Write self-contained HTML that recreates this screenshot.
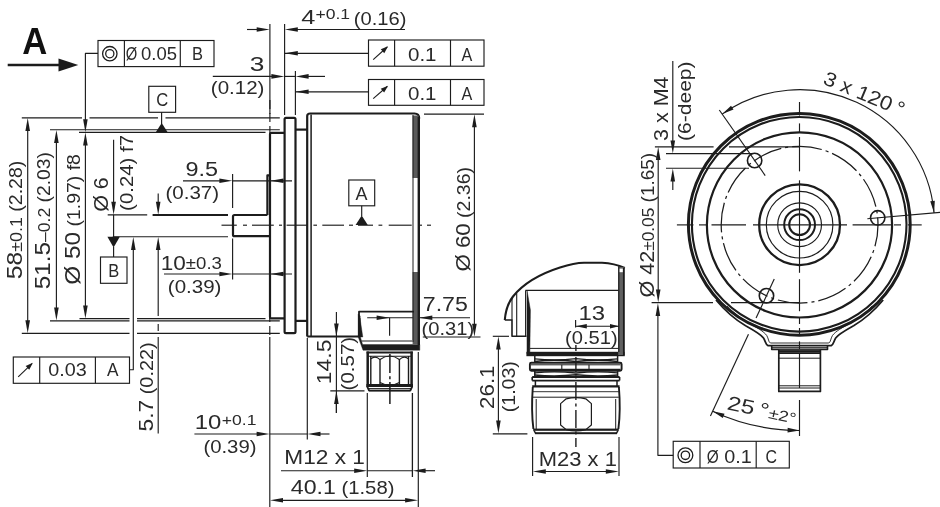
<!DOCTYPE html>
<html><head><meta charset="utf-8"><title>Dimensional drawing</title>
<style>
html,body{margin:0;padding:0;background:#fff;}
body{width:940px;height:507px;overflow:hidden;font-family:"Liberation Sans",sans-serif;}
svg{display:block;filter:grayscale(1);}
svg text{font-family:"Liberation Sans",sans-serif;}
</style></head><body>
<svg width="940" height="507" viewBox="0 0 940 507">
<rect x="0" y="0" width="940" height="507" fill="#ffffff"/>
<text x="22.3" y="54.3" font-size="37" text-anchor="start" font-weight="bold" fill="#111" textLength="25" lengthAdjust="spacingAndGlyphs">A</text>
<line x1="7.7" y1="65" x2="62" y2="65" stroke="#1c1c1c" stroke-width="2.6" stroke-linecap="butt"/>
<polygon points="78.3,65 58.5,58.4 58.5,71.6" fill="#1c1c1c"/>
<rect x="98" y="40.5" width="116" height="26.1" fill="none" stroke="#1c1c1c" stroke-width="1.15"/>
<line x1="124.4" y1="40.5" x2="124.4" y2="66.6" stroke="#1c1c1c" stroke-width="1.15" stroke-linecap="butt"/>
<line x1="180.3" y1="40.5" x2="180.3" y2="66.6" stroke="#1c1c1c" stroke-width="1.15" stroke-linecap="butt"/>
<circle cx="109.8" cy="53.7" r="7.2" fill="none" stroke="#1c1c1c" stroke-width="1.3"/>
<circle cx="109.8" cy="53.7" r="4.1" fill="none" stroke="#1c1c1c" stroke-width="1.3"/>
<text x="125.8" y="60.3" font-size="17.5" text-anchor="start" font-weight="normal" fill="#2a2a2a" textLength="11.5" lengthAdjust="spacingAndGlyphs">Ø</text>
<text x="141" y="60.3" font-size="17.5" text-anchor="start" font-weight="normal" fill="#2a2a2a" textLength="36" lengthAdjust="spacingAndGlyphs">0.05</text>
<text x="192" y="60.3" font-size="17.5" text-anchor="start" font-weight="normal" fill="#2a2a2a" textLength="11" lengthAdjust="spacingAndGlyphs">B</text>
<path d="M98,53.4 H85.4 V123" fill="none" stroke="#1c1c1c" stroke-width="1.15" stroke-linejoin="round"/>
<polygon points="85.4,132.2 83.1,119.2 87.7,119.2" fill="#1c1c1c"/>
<rect x="148.8" y="86.3" width="26.8" height="26" fill="none" stroke="#1c1c1c" stroke-width="1.15"/>
<text x="156.2" y="106.4" font-size="17.5" text-anchor="start" font-weight="normal" fill="#2a2a2a" textLength="12" lengthAdjust="spacingAndGlyphs">C</text>
<line x1="161.6" y1="112.3" x2="161.6" y2="124" stroke="#1c1c1c" stroke-width="1.15" stroke-linecap="butt"/>
<polygon points="155.6,132.6 167.8,132.6 161.7,123" fill="#1c1c1c"/>
<rect x="368.5" y="40" width="115.5" height="26.2" fill="none" stroke="#1c1c1c" stroke-width="1.15"/>
<line x1="394.6" y1="40" x2="394.6" y2="66.2" stroke="#1c1c1c" stroke-width="1.15" stroke-linecap="butt"/>
<line x1="450.5" y1="40" x2="450.5" y2="66.2" stroke="#1c1c1c" stroke-width="1.15" stroke-linecap="butt"/>
<line x1="373.2" y1="59.6" x2="387.2" y2="47" stroke="#1c1c1c" stroke-width="1.1" stroke-linecap="butt"/>
<polygon points="388.09,46.2 384.26,53.15 380.78,49.28" fill="#1c1c1c"/>
<text x="408" y="60.6" font-size="17.5" text-anchor="start" font-weight="normal" fill="#2a2a2a" textLength="28.5" lengthAdjust="spacingAndGlyphs">0.1</text>
<text x="461.6" y="60.6" font-size="17.5" text-anchor="start" font-weight="normal" fill="#2a2a2a" textLength="10.8" lengthAdjust="spacingAndGlyphs">A</text>
<rect x="368.5" y="79.5" width="115.5" height="25.8" fill="none" stroke="#1c1c1c" stroke-width="1.15"/>
<line x1="394.6" y1="79.5" x2="394.6" y2="105.3" stroke="#1c1c1c" stroke-width="1.15" stroke-linecap="butt"/>
<line x1="450.5" y1="79.5" x2="450.5" y2="105.3" stroke="#1c1c1c" stroke-width="1.15" stroke-linecap="butt"/>
<line x1="373.2" y1="98.7" x2="387.2" y2="86.5" stroke="#1c1c1c" stroke-width="1.1" stroke-linecap="butt"/>
<polygon points="388.1,85.71 384.16,92.6 380.74,88.68" fill="#1c1c1c"/>
<text x="408" y="99.7" font-size="17.5" text-anchor="start" font-weight="normal" fill="#2a2a2a" textLength="28.5" lengthAdjust="spacingAndGlyphs">0.1</text>
<text x="461.6" y="99.7" font-size="17.5" text-anchor="start" font-weight="normal" fill="#2a2a2a" textLength="10.8" lengthAdjust="spacingAndGlyphs">A</text>
<line x1="284.6" y1="53.3" x2="368.5" y2="53.3" stroke="#1c1c1c" stroke-width="1.15" stroke-linecap="butt"/>
<polygon points="284.8,53.3 297.8,51 297.8,55.6" fill="#1c1c1c"/>
<line x1="295.4" y1="91.8" x2="368.5" y2="91.8" stroke="#1c1c1c" stroke-width="1.15" stroke-linecap="butt"/>
<polygon points="295.6,91.8 308.6,89.5 308.6,94.1" fill="#1c1c1c"/>
<rect x="13.3" y="357" width="116.2" height="26.3" fill="none" stroke="#1c1c1c" stroke-width="1.15"/>
<line x1="39.7" y1="357" x2="39.7" y2="383.3" stroke="#1c1c1c" stroke-width="1.15" stroke-linecap="butt"/>
<line x1="95.4" y1="357" x2="95.4" y2="383.3" stroke="#1c1c1c" stroke-width="1.15" stroke-linecap="butt"/>
<line x1="18.2" y1="376.8" x2="32" y2="363.6" stroke="#1c1c1c" stroke-width="1.1" stroke-linecap="butt"/>
<polygon points="32.87,362.77 29.24,369.83 25.65,366.08" fill="#1c1c1c"/>
<text x="48.2" y="376.4" font-size="17.5" text-anchor="start" font-weight="normal" fill="#2a2a2a" textLength="38.5" lengthAdjust="spacingAndGlyphs">0.03</text>
<text x="107" y="376.4" font-size="17.5" text-anchor="start" font-weight="normal" fill="#2a2a2a" textLength="11.5" lengthAdjust="spacingAndGlyphs">A</text>
<path d="M129.5,369.7 H133.3 V246" fill="none" stroke="#1c1c1c" stroke-width="1.15" stroke-linejoin="round"/>
<polygon points="133.3,237 135.6,250 131,250" fill="#1c1c1c"/>
<rect x="673.2" y="441.3" width="116.1" height="26.7" fill="none" stroke="#1c1c1c" stroke-width="1.15"/>
<line x1="700" y1="441.3" x2="700" y2="468" stroke="#1c1c1c" stroke-width="1.15" stroke-linecap="butt"/>
<line x1="756.2" y1="441.3" x2="756.2" y2="468" stroke="#1c1c1c" stroke-width="1.15" stroke-linecap="butt"/>
<circle cx="685.4" cy="455.3" r="7.4" fill="none" stroke="#1c1c1c" stroke-width="1.3"/>
<circle cx="685.4" cy="455.3" r="4.2" fill="none" stroke="#1c1c1c" stroke-width="1.3"/>
<text x="706.8" y="463" font-size="17.5" text-anchor="start" font-weight="normal" fill="#2a2a2a" textLength="12" lengthAdjust="spacingAndGlyphs">Ø</text>
<text x="724.2" y="463" font-size="17.5" text-anchor="start" font-weight="normal" fill="#2a2a2a" textLength="27.5" lengthAdjust="spacingAndGlyphs">0.1</text>
<text x="765.6" y="463" font-size="17.5" text-anchor="start" font-weight="normal" fill="#2a2a2a" textLength="11.5" lengthAdjust="spacingAndGlyphs">C</text>
<path d="M673.2,455.3 H657.9 V312" fill="none" stroke="#1c1c1c" stroke-width="1.15" stroke-linejoin="round"/>
<polygon points="657.9,303 660.2,316 655.6,316" fill="#1c1c1c"/>
<rect x="348.8" y="180" width="25.9" height="25.8" fill="none" stroke="#1c1c1c" stroke-width="1.15"/>
<text x="355.6" y="199.6" font-size="17.5" text-anchor="start" font-weight="normal" fill="#2a2a2a" textLength="12" lengthAdjust="spacingAndGlyphs">A</text>
<line x1="361.7" y1="205.8" x2="361.7" y2="216" stroke="#1c1c1c" stroke-width="1.15" stroke-linecap="butt"/>
<polygon points="355.6,225 367.8,225 361.7,215.6" fill="#1c1c1c"/>
<rect x="100.5" y="257" width="26.5" height="26.3" fill="none" stroke="#1c1c1c" stroke-width="1.15"/>
<text x="108.3" y="277" font-size="17.5" text-anchor="start" font-weight="normal" fill="#2a2a2a" textLength="11" lengthAdjust="spacingAndGlyphs">B</text>
<line x1="113.6" y1="247" x2="113.6" y2="257" stroke="#1c1c1c" stroke-width="1.15" stroke-linecap="butt"/>
<polygon points="107.4,236.7 119.8,236.7 113.6,247.4" fill="#1c1c1c"/>
<line x1="21.8" y1="117.8" x2="82" y2="117.8" stroke="#1c1c1c" stroke-width="1.15" stroke-linecap="butt"/>
<line x1="89.5" y1="117.8" x2="158" y2="117.8" stroke="#1c1c1c" stroke-width="1.15" stroke-linecap="butt"/>
<line x1="165.5" y1="117.8" x2="279.8" y2="117.8" stroke="#1c1c1c" stroke-width="1.15" stroke-linecap="butt"/>
<line x1="50" y1="129.7" x2="279.8" y2="129.7" stroke="#1c1c1c" stroke-width="1.15" stroke-linecap="butt"/>
<line x1="79" y1="132.3" x2="265.5" y2="132.3" stroke="#1c1c1c" stroke-width="1.15" stroke-linecap="butt"/>
<line x1="79.5" y1="318.6" x2="129.5" y2="318.6" stroke="#1c1c1c" stroke-width="1.15" stroke-linecap="butt"/>
<line x1="137" y1="318.6" x2="265.5" y2="318.6" stroke="#1c1c1c" stroke-width="1.15" stroke-linecap="butt"/>
<line x1="50" y1="320.8" x2="129.5" y2="320.8" stroke="#1c1c1c" stroke-width="1.15" stroke-linecap="butt"/>
<line x1="137" y1="320.8" x2="279.8" y2="320.8" stroke="#1c1c1c" stroke-width="1.15" stroke-linecap="butt"/>
<line x1="21.8" y1="333.4" x2="129.5" y2="333.4" stroke="#1c1c1c" stroke-width="1.15" stroke-linecap="butt"/>
<line x1="137" y1="333.4" x2="279.8" y2="333.4" stroke="#1c1c1c" stroke-width="1.15" stroke-linecap="butt"/>
<line x1="27.7" y1="126" x2="27.7" y2="325" stroke="#1c1c1c" stroke-width="1.15" stroke-linecap="butt"/>
<polygon points="27.7,118 30,131 25.4,131" fill="#1c1c1c"/>
<polygon points="27.7,333.2 25.4,320.2 30,320.2" fill="#1c1c1c"/>
<line x1="56.4" y1="138" x2="56.4" y2="312" stroke="#1c1c1c" stroke-width="1.15" stroke-linecap="butt"/>
<polygon points="56.4,129.9 58.7,142.9 54.1,142.9" fill="#1c1c1c"/>
<polygon points="56.4,320.6 54.1,307.6 58.7,307.6" fill="#1c1c1c"/>
<line x1="85.4" y1="140" x2="85.4" y2="310" stroke="#1c1c1c" stroke-width="1.15" stroke-linecap="butt"/>
<polygon points="85.4,132.5 87.7,145.5 83.1,145.5" fill="#1c1c1c"/>
<polygon points="85.4,318.4 83.1,305.4 87.7,305.4" fill="#1c1c1c"/>
<text x="22.2" y="279.2" font-size="22" text-anchor="start" font-weight="normal" fill="#2a2a2a" transform="rotate(-90 22.2 279.2)" textLength="118.6" lengthAdjust="spacingAndGlyphs">58<tspan font-size="16">±0.1</tspan><tspan font-size="17.5"> (2.28)</tspan></text>
<text x="50.3" y="289.2" font-size="22" text-anchor="start" font-weight="normal" fill="#2a2a2a" transform="rotate(-90 50.3 289.2)" textLength="137.1" lengthAdjust="spacingAndGlyphs">51.5<tspan font-size="16">–0.2</tspan><tspan font-size="17.5"> (2.03)</tspan></text>
<text x="80.2" y="284.7" font-size="22" text-anchor="start" font-weight="normal" fill="#2a2a2a" transform="rotate(-90 80.2 284.7)" textLength="130.6" lengthAdjust="spacingAndGlyphs">Ø 50<tspan font-size="17.5"> (1.97) f8</tspan></text>
<line x1="113.6" y1="139.7" x2="113.6" y2="206" stroke="#1c1c1c" stroke-width="1.15" stroke-linecap="butt"/>
<polygon points="113.6,214.7 111.3,201.7 115.9,201.7" fill="#1c1c1c"/>
<line x1="113.6" y1="214.7" x2="113.6" y2="237" stroke="#1c1c1c" stroke-width="1.15" stroke-linecap="butt"/>
<line x1="107.7" y1="214.9" x2="147.2" y2="214.9" stroke="#1c1c1c" stroke-width="1.15" stroke-linecap="butt"/>
<line x1="152.6" y1="214.9" x2="228" y2="214.9" stroke="#1c1c1c" stroke-width="2.0" stroke-linecap="butt"/>
<line x1="112.8" y1="236.7" x2="228" y2="236.7" stroke="#1c1c1c" stroke-width="1.15" stroke-linecap="butt"/>
<text x="108.5" y="211.8" font-size="20" text-anchor="start" font-weight="normal" fill="#2a2a2a" transform="rotate(-90 108.5 211.8)" textLength="34.6" lengthAdjust="spacingAndGlyphs">Ø 6</text>
<text x="132.8" y="210.9" font-size="17.5" text-anchor="start" font-weight="normal" fill="#2a2a2a" transform="rotate(-90 132.8 210.9)" textLength="76" lengthAdjust="spacingAndGlyphs">(0.24) f7</text>
<line x1="158.2" y1="193.6" x2="158.2" y2="206" stroke="#1c1c1c" stroke-width="1.15" stroke-linecap="butt"/>
<polygon points="158.2,214.7 155.9,201.7 160.5,201.7" fill="#1c1c1c"/>
<polygon points="158.2,236.9 160.5,249.9 155.9,249.9" fill="#1c1c1c"/>
<line x1="158.2" y1="245" x2="158.2" y2="316" stroke="#1c1c1c" stroke-width="1.15" stroke-linecap="butt"/>
<line x1="158.2" y1="324" x2="158.2" y2="331" stroke="#1c1c1c" stroke-width="1.15" stroke-linecap="butt"/>
<line x1="158.2" y1="337" x2="158.2" y2="433.4" stroke="#1c1c1c" stroke-width="1.15" stroke-linecap="butt"/>
<text x="153.1" y="431.4" font-size="20" text-anchor="start" font-weight="normal" fill="#2a2a2a" transform="rotate(-90 153.1 431.4)" textLength="89.1" lengthAdjust="spacingAndGlyphs">5.7<tspan font-size="17.5"> (0.22)</tspan></text>
<text x="185.5" y="175.6" font-size="20" text-anchor="start" font-weight="normal" fill="#2a2a2a" textLength="32.6" lengthAdjust="spacingAndGlyphs">9.5</text>
<line x1="183" y1="180.8" x2="223" y2="180.8" stroke="#1c1c1c" stroke-width="1.15" stroke-linecap="butt"/>
<polygon points="232.4,180.8 219.4,183.1 219.4,178.5" fill="#1c1c1c"/>
<line x1="232.6" y1="174" x2="232.6" y2="208" stroke="#1c1c1c" stroke-width="1.15" stroke-linecap="butt"/>
<text x="165.5" y="198.8" font-size="17.5" text-anchor="start" font-weight="normal" fill="#2a2a2a" textLength="53.6" lengthAdjust="spacingAndGlyphs">(0.37)</text>
<line x1="232.6" y1="180.8" x2="292" y2="180.8" stroke="#1c1c1c" stroke-width="1.15" stroke-linecap="butt"/>
<polygon points="270.5,180.8 283.5,178.5 283.5,183.1" fill="#1c1c1c"/>
<text x="160.8" y="269.9" font-size="20" text-anchor="start" font-weight="normal" fill="#2a2a2a" textLength="61.1" lengthAdjust="spacingAndGlyphs">10<tspan font-size="16.5" dy="-0.8">±0.3</tspan></text>
<line x1="164" y1="274" x2="223" y2="274" stroke="#1c1c1c" stroke-width="1.15" stroke-linecap="butt"/>
<polygon points="232.4,274 219.4,276.3 219.4,271.7" fill="#1c1c1c"/>
<line x1="232.6" y1="238.5" x2="232.6" y2="279.5" stroke="#1c1c1c" stroke-width="1.15" stroke-linecap="butt"/>
<text x="167.8" y="293.3" font-size="17.5" text-anchor="start" font-weight="normal" fill="#2a2a2a" textLength="53.6" lengthAdjust="spacingAndGlyphs">(0.39)</text>
<line x1="232.6" y1="274" x2="292" y2="274" stroke="#1c1c1c" stroke-width="1.15" stroke-linecap="butt"/>
<polygon points="270.5,274 283.5,271.7 283.5,276.3" fill="#1c1c1c"/>
<line x1="269.9" y1="24" x2="269.9" y2="114" stroke="#1c1c1c" stroke-width="1.15" stroke-linecap="butt"/>
<line x1="269.9" y1="100" x2="269.9" y2="136" stroke="#1c1c1c" stroke-width="1.15" stroke-dasharray="9 4" stroke-linecap="butt"/>
<line x1="284.6" y1="24" x2="284.6" y2="115" stroke="#1c1c1c" stroke-width="1.15" stroke-linecap="butt"/>
<line x1="295.4" y1="71" x2="295.4" y2="115" stroke="#1c1c1c" stroke-width="1.15" stroke-linecap="butt"/>
<line x1="247" y1="29.5" x2="261" y2="29.5" stroke="#1c1c1c" stroke-width="1.15" stroke-linecap="butt"/>
<polygon points="269.7,29.5 256.7,31.8 256.7,27.2" fill="#1c1c1c"/>
<line x1="293" y1="29.5" x2="405" y2="29.5" stroke="#1c1c1c" stroke-width="1.15" stroke-linecap="butt"/>
<polygon points="284.8,29.5 297.8,27.2 297.8,31.8" fill="#1c1c1c"/>
<text x="301.3" y="23.6" font-size="20" text-anchor="start" font-weight="normal" fill="#2a2a2a" textLength="14.1" lengthAdjust="spacingAndGlyphs">4</text>
<text x="315.5" y="19.4" font-size="14.5" text-anchor="start" font-weight="normal" fill="#2a2a2a" textLength="34.6" lengthAdjust="spacingAndGlyphs">+0.1</text>
<text x="353.8" y="24.6" font-size="17.5" text-anchor="start" font-weight="normal" fill="#2a2a2a" textLength="52.6" lengthAdjust="spacingAndGlyphs">(0.16)</text>
<line x1="212.8" y1="76.4" x2="276" y2="76.4" stroke="#1c1c1c" stroke-width="1.15" stroke-linecap="butt"/>
<polygon points="284.4,76.4 271.4,78.7 271.4,74.1" fill="#1c1c1c"/>
<line x1="284.6" y1="76.4" x2="295.4" y2="76.4" stroke="#1c1c1c" stroke-width="1.15" stroke-linecap="butt"/>
<line x1="304" y1="76.4" x2="325" y2="76.4" stroke="#1c1c1c" stroke-width="1.15" stroke-linecap="butt"/>
<polygon points="295.6,76.4 308.6,74.1 308.6,78.7" fill="#1c1c1c"/>
<text x="249.8" y="70.5" font-size="20" text-anchor="start" font-weight="normal" fill="#2a2a2a" textLength="14.6" lengthAdjust="spacingAndGlyphs">3</text>
<text x="210.8" y="94.4" font-size="17.5" text-anchor="start" font-weight="normal" fill="#2a2a2a" textLength="53.6" lengthAdjust="spacingAndGlyphs">(0.12)</text>
<line x1="424" y1="114.1" x2="484" y2="114.1" stroke="#1c1c1c" stroke-width="1.15" stroke-linecap="butt"/>
<line x1="474.4" y1="122" x2="474.4" y2="329" stroke="#1c1c1c" stroke-width="1.15" stroke-linecap="butt"/>
<polygon points="474.4,114.3 476.7,127.3 472.1,127.3" fill="#1c1c1c"/>
<polygon points="474.4,336.8 472.1,323.8 476.7,323.8" fill="#1c1c1c"/>
<text x="470.2" y="271.6" font-size="20" text-anchor="start" font-weight="normal" fill="#2a2a2a" transform="rotate(-90 470.2 271.6)" textLength="104.6" lengthAdjust="spacingAndGlyphs">Ø 60<tspan font-size="17.5"> (2.36)</tspan></text>
<line x1="422.8" y1="337" x2="480.5" y2="337" stroke="#1c1c1c" stroke-width="1.15" stroke-linecap="butt"/>
<text x="422.8" y="311" font-size="20" text-anchor="start" font-weight="normal" fill="#2a2a2a" textLength="45.1" lengthAdjust="spacingAndGlyphs">7.75</text>
<line x1="367.2" y1="317.7" x2="470" y2="317.7" stroke="#1c1c1c" stroke-width="1.15" stroke-linecap="butt"/>
<polygon points="389.6,317.7 376.6,320 376.6,315.4" fill="#1c1c1c"/>
<line x1="389.6" y1="317.7" x2="389.6" y2="335.8" stroke="#1c1c1c" stroke-width="1.15" stroke-linecap="butt"/>
<polygon points="419.3,317.7 432.3,315.4 432.3,320" fill="#1c1c1c"/>
<text x="421.6" y="334.6" font-size="17.5" text-anchor="start" font-weight="normal" fill="#2a2a2a" textLength="52.6" lengthAdjust="spacingAndGlyphs">(0.31)</text>
<line x1="336.4" y1="312" x2="336.4" y2="413" stroke="#1c1c1c" stroke-width="1.15" stroke-linecap="butt"/>
<polygon points="336.4,336.4 334.1,323.4 338.7,323.4" fill="#1c1c1c"/>
<polygon points="336.4,390.9 338.7,403.9 334.1,403.9" fill="#1c1c1c"/>
<line x1="336.4" y1="399" x2="336.4" y2="413" stroke="#1c1c1c" stroke-width="1.15" stroke-linecap="butt"/>
<line x1="330.3" y1="390.8" x2="364.5" y2="390.8" stroke="#1c1c1c" stroke-width="1.15" stroke-linecap="butt"/>
<text x="331.4" y="384.2" font-size="20" text-anchor="start" font-weight="normal" fill="#2a2a2a" transform="rotate(-90 331.4 384.2)" textLength="44.6" lengthAdjust="spacingAndGlyphs">14.5</text>
<text x="354.4" y="390.4" font-size="17.5" text-anchor="start" font-weight="normal" fill="#2a2a2a" transform="rotate(-90 354.4 390.4)" textLength="53.6" lengthAdjust="spacingAndGlyphs">(0.57)</text>
<line x1="269.8" y1="337" x2="269.8" y2="507" stroke="#1c1c1c" stroke-width="1.15" stroke-linecap="butt"/>
<line x1="269.8" y1="300" x2="269.8" y2="337" stroke="#1c1c1c" stroke-width="1.15" stroke-dasharray="9 4" stroke-linecap="butt"/>
<line x1="307.3" y1="338" x2="307.3" y2="439.6" stroke="#1c1c1c" stroke-width="1.15" stroke-linecap="butt"/>
<line x1="194.4" y1="434" x2="261" y2="434" stroke="#1c1c1c" stroke-width="1.15" stroke-linecap="butt"/>
<polygon points="269.6,434 256.6,436.3 256.6,431.7" fill="#1c1c1c"/>
<line x1="269.8" y1="434" x2="307.3" y2="434" stroke="#1c1c1c" stroke-width="1.15" stroke-linecap="butt"/>
<line x1="315" y1="434" x2="329.5" y2="434" stroke="#1c1c1c" stroke-width="1.15" stroke-linecap="butt"/>
<polygon points="307.5,434 320.5,431.7 320.5,436.3" fill="#1c1c1c"/>
<text x="194.8" y="428.8" font-size="20" text-anchor="start" font-weight="normal" fill="#2a2a2a" textLength="26.6" lengthAdjust="spacingAndGlyphs">10</text>
<text x="221.8" y="424.6" font-size="14.5" text-anchor="start" font-weight="normal" fill="#2a2a2a" textLength="34.6" lengthAdjust="spacingAndGlyphs">+0.1</text>
<text x="203.4" y="453" font-size="17.5" text-anchor="start" font-weight="normal" fill="#2a2a2a" textLength="53.1" lengthAdjust="spacingAndGlyphs">(0.39)</text>
<text x="284.3" y="463.7" font-size="20" text-anchor="start" font-weight="normal" fill="#2a2a2a" textLength="80.6" lengthAdjust="spacingAndGlyphs">M12 x 1</text>
<line x1="281" y1="470.7" x2="359" y2="470.7" stroke="#1c1c1c" stroke-width="1.15" stroke-linecap="butt"/>
<polygon points="367.2,470.7 354.2,473 354.2,468.4" fill="#1c1c1c"/>
<line x1="367.3" y1="470.7" x2="412.4" y2="470.7" stroke="#1c1c1c" stroke-width="1.15" stroke-linecap="butt"/>
<line x1="421" y1="470.7" x2="435" y2="470.7" stroke="#1c1c1c" stroke-width="1.15" stroke-linecap="butt"/>
<polygon points="412.6,470.7 425.6,468.4 425.6,473" fill="#1c1c1c"/>
<line x1="367.3" y1="393" x2="367.3" y2="477" stroke="#1c1c1c" stroke-width="1.15" stroke-linecap="butt"/>
<line x1="412.4" y1="393" x2="412.4" y2="477" stroke="#1c1c1c" stroke-width="1.3" stroke-linecap="butt"/>
<line x1="418.3" y1="352" x2="418.3" y2="507" stroke="#1c1c1c" stroke-width="1.15" stroke-linecap="butt"/>
<text x="290.8" y="493.6" font-size="20" text-anchor="start" font-weight="normal" fill="#2a2a2a" textLength="103.6" lengthAdjust="spacingAndGlyphs">40.1<tspan font-size="17.5"> (1.58)</tspan></text>
<line x1="278" y1="500.3" x2="410" y2="500.3" stroke="#1c1c1c" stroke-width="1.15" stroke-linecap="butt"/>
<polygon points="270,500.3 283,498 283,502.6" fill="#1c1c1c"/>
<polygon points="418.1,500.3 405.1,502.6 405.1,498" fill="#1c1c1c"/>
<line x1="221.5" y1="225.2" x2="236.8" y2="225.2" stroke="#1c1c1c" stroke-width="1.15" stroke-linecap="butt"/>
<line x1="243" y1="225.2" x2="247" y2="225.2" stroke="#1c1c1c" stroke-width="1.15" stroke-linecap="butt"/>
<line x1="252" y1="225.2" x2="273.8" y2="225.2" stroke="#1c1c1c" stroke-width="1.15" stroke-linecap="butt"/>
<line x1="279" y1="225.2" x2="282" y2="225.2" stroke="#1c1c1c" stroke-width="1.15" stroke-linecap="butt"/>
<line x1="286.6" y1="225.2" x2="307" y2="225.2" stroke="#1c1c1c" stroke-width="1.15" stroke-linecap="butt"/>
<line x1="313.4" y1="225.2" x2="317" y2="225.2" stroke="#1c1c1c" stroke-width="1.15" stroke-linecap="butt"/>
<line x1="322.3" y1="225.2" x2="344" y2="225.2" stroke="#1c1c1c" stroke-width="1.15" stroke-linecap="butt"/>
<line x1="349" y1="225.2" x2="353" y2="225.2" stroke="#1c1c1c" stroke-width="1.15" stroke-linecap="butt"/>
<line x1="358" y1="225.2" x2="373" y2="225.2" stroke="#1c1c1c" stroke-width="1.15" stroke-linecap="butt"/>
<line x1="378.5" y1="225.2" x2="382.3" y2="225.2" stroke="#1c1c1c" stroke-width="1.15" stroke-linecap="butt"/>
<line x1="388.7" y1="225.2" x2="411.7" y2="225.2" stroke="#1c1c1c" stroke-width="1.15" stroke-linecap="butt"/>
<line x1="418" y1="225.2" x2="422" y2="225.2" stroke="#1c1c1c" stroke-width="1.15" stroke-linecap="butt"/>
<line x1="427" y1="225.2" x2="431" y2="225.2" stroke="#1c1c1c" stroke-width="1.15" stroke-linecap="butt"/>
<path d="M267.4,215 H234.5 Q233,215 233,216.5 V234.7 Q233,236.2 234.5,236.2 H269.5" fill="none" stroke="#1c1c1c" stroke-width="2.2" stroke-linejoin="round"/>
<path d="M269.5,175.4 H267.4 V214.9" fill="none" stroke="#1c1c1c" stroke-width="2.2" stroke-linejoin="round"/>
<path d="M284.6,132.8 H271.4 Q270,132.8 270,134.2 V316.9 Q270,318.3 271.4,318.3 H284.6" fill="none" stroke="#1c1c1c" stroke-width="2.2" stroke-linejoin="round"/>
<path d="M284.6,331.8 V119.2 Q284.6,117.8 286,117.8 H294.1 Q295.5,117.8 295.5,119.2 V331.8 Q295.5,333.2 294.1,333.2 H286 Q284.6,333.2 284.6,331.8 Z" fill="none" stroke="#1c1c1c" stroke-width="2.2" stroke-linejoin="round"/>
<line x1="295.5" y1="129.6" x2="307" y2="129.6" stroke="#1c1c1c" stroke-width="2.2" stroke-linecap="butt"/>
<line x1="295.5" y1="320.9" x2="307" y2="320.9" stroke="#1c1c1c" stroke-width="2.2" stroke-linecap="butt"/>
<path d="M307.2,336.5 V116 Q307.2,113.5 310.3,113.5 H414.5 Q419.2,113.5 419.2,118.5" fill="none" stroke="#1c1c1c" stroke-width="2.2" stroke-linejoin="round"/>
<line x1="311.1" y1="114.5" x2="311.1" y2="336.5" stroke="#1c1c1c" stroke-width="1.5" stroke-linecap="butt"/>
<path d="M307.2,336.5 H359" fill="none" stroke="#1c1c1c" stroke-width="2.2" stroke-linejoin="round"/>
<rect x="412.6" y="115.5" width="5.9" height="62.5" fill="#5a5a5a" stroke="#1c1c1c" stroke-width="0"/>
<rect x="412.6" y="272" width="5.9" height="72" fill="#5a5a5a" stroke="#1c1c1c" stroke-width="0"/>
<line x1="413" y1="115" x2="413" y2="340" stroke="#1c1c1c" stroke-width="1.0" stroke-linecap="butt"/>
<line x1="418.8" y1="117" x2="418.8" y2="345" stroke="#1c1c1c" stroke-width="2.4" stroke-linecap="butt"/>
<path d="M359,337 V311.7 H414" fill="none" stroke="#1c1c1c" stroke-width="1.8" stroke-linejoin="round"/>
<path d="M358.2,314 L358.2,337 L363,350.2 L419.8,350.2 L419.8,344.6 L362.6,344.6 L360.4,337 L360.2,316 Z" fill="#1c1c1c" stroke="#1c1c1c" stroke-width="0.4" stroke-linejoin="round"/>
<path d="M360,318 L362.8,337 L360,337 Z" fill="#1c1c1c" stroke="#1c1c1c" stroke-width="0.4" stroke-linejoin="round"/>
<line x1="361.5" y1="341" x2="414" y2="341" stroke="#1c1c1c" stroke-width="1.0" stroke-linecap="butt"/>
<path d="M367.7,351.6 V387 M411.6,351.6 V387" fill="none" stroke="#1c1c1c" stroke-width="2.5" stroke-linejoin="round"/>
<line x1="366.6" y1="352.4" x2="412.8" y2="352.4" stroke="#1c1c1c" stroke-width="2.0" stroke-linecap="butt"/>
<line x1="368.5" y1="356.2" x2="411" y2="356.2" stroke="#1c1c1c" stroke-width="1.1" stroke-linecap="butt"/>
<line x1="370.8" y1="356" x2="370.8" y2="385" stroke="#1c1c1c" stroke-width="1.4" stroke-linecap="butt"/>
<line x1="380" y1="359" x2="380" y2="385" stroke="#1c1c1c" stroke-width="1.4" stroke-linecap="butt"/>
<line x1="399.4" y1="359" x2="399.4" y2="385" stroke="#1c1c1c" stroke-width="1.4" stroke-linecap="butt"/>
<line x1="408.5" y1="356" x2="408.5" y2="385" stroke="#1c1c1c" stroke-width="1.4" stroke-linecap="butt"/>
<path d="M380,359.6 Q389.7,352.4 399.4,359.6" fill="none" stroke="#1c1c1c" stroke-width="1.2" stroke-linejoin="round"/>
<path d="M380,382.6 Q389.7,388 399.4,382.6" fill="none" stroke="#1c1c1c" stroke-width="1.1" stroke-linejoin="round"/>
<path d="M370.8,358.8 Q375.4,355 380,359.6" fill="none" stroke="#1c1c1c" stroke-width="1.1" stroke-linejoin="round"/>
<path d="M399.4,359.6 Q404,355 408.5,358.8" fill="none" stroke="#1c1c1c" stroke-width="1.1" stroke-linejoin="round"/>
<rect x="366.4" y="384" width="46.6" height="3" fill="#1c1c1c" stroke="#1c1c1c" stroke-width="0"/>
<line x1="368" y1="388.5" x2="411.4" y2="388.5" stroke="#1c1c1c" stroke-width="0.9" stroke-linecap="butt"/>
<rect x="368.8" y="389.6" width="41.8" height="2" fill="#1c1c1c" stroke="#1c1c1c" stroke-width="0"/>
<line x1="367.2" y1="386.5" x2="369.2" y2="390.8" stroke="#1c1c1c" stroke-width="1.8" stroke-linecap="butt"/>
<line x1="412.2" y1="386.5" x2="410.2" y2="390.8" stroke="#1c1c1c" stroke-width="1.8" stroke-linecap="butt"/>
<line x1="389.9" y1="354" x2="389.9" y2="373" stroke="#1c1c1c" stroke-width="1.5" stroke-linecap="butt"/>
<line x1="389.9" y1="376.2" x2="389.9" y2="379.2" stroke="#1c1c1c" stroke-width="1.5" stroke-linecap="butt"/>
<line x1="389.9" y1="382" x2="389.9" y2="404" stroke="#1c1c1c" stroke-width="1.5" stroke-linecap="butt"/>
<path d="M504.8,320 C505.5,311 508,303 513,296.5 C524,283 543,273 560,267.6 C568,265 576,262.9 584,262.8 L602,262.8 C610,263.2 618,265 624.8,268" fill="none" stroke="#1c1c1c" stroke-width="2.1" stroke-linejoin="round"/>
<path d="M504.8,320 H512 V336.3 H526.5" fill="none" stroke="#1c1c1c" stroke-width="1.6" stroke-linejoin="round"/>
<line x1="512" y1="298" x2="512" y2="320" stroke="#1c1c1c" stroke-width="1.1" stroke-linecap="butt"/>
<line x1="516.7" y1="293" x2="516.7" y2="336" stroke="#1c1c1c" stroke-width="1.1" stroke-linecap="butt"/>
<line x1="525.6" y1="290.4" x2="525.6" y2="336" stroke="#1c1c1c" stroke-width="1.1" stroke-linecap="butt"/>
<line x1="525.4" y1="290.4" x2="619" y2="290.4" stroke="#1c1c1c" stroke-width="1.1" stroke-linecap="butt"/>
<path d="M527,290.5 L530.4,310 L529.8,354 L527,354 Z" fill="#1c1c1c" stroke="#1c1c1c" stroke-width="0.5" stroke-linejoin="round"/>
<line x1="530" y1="348.4" x2="620" y2="348.4" stroke="#1c1c1c" stroke-width="1.0" stroke-linecap="butt"/>
<rect x="526.4" y="351.8" width="98.4" height="4.4" fill="#1c1c1c" stroke="#1c1c1c" stroke-width="0"/>
<rect x="618.2" y="267" width="6.4" height="88" fill="#606060" stroke="#1c1c1c" stroke-width="0"/>
<line x1="618.8" y1="266" x2="618.8" y2="352" stroke="#1c1c1c" stroke-width="1.2" stroke-linecap="butt"/>
<line x1="623.8" y1="267.6" x2="623.8" y2="355" stroke="#1c1c1c" stroke-width="1.7" stroke-linecap="butt"/>
<rect x="619.6" y="268.6" width="3.2" height="3.6" fill="#fff" stroke="#1c1c1c" stroke-width="0"/>
<path d="M534.8,356 V362.7 M617.6,356 V362.7" fill="none" stroke="#1c1c1c" stroke-width="1.5" stroke-linejoin="round"/>
<path d="M534.8,358.8 Q555,361.2 576,358.6 Q597,361.2 617.6,358.8" fill="none" stroke="#1c1c1c" stroke-width="1.3" stroke-linejoin="round"/>
<path d="M534.8,361.4 Q555,359.2 576,361.6 Q597,359.2 617.6,361.4" fill="none" stroke="#1c1c1c" stroke-width="1.5" stroke-linejoin="round"/>
<path d="M531.4,362.7 Q529.9,362.7 529.9,364.2 V369.2 Q529.9,370.7 531.4,370.7 H620.1 Q621.6,370.7 621.6,369.2 V364.2 Q621.6,362.7 620.1,362.7 Z" fill="none" stroke="#1c1c1c" stroke-width="1.9" stroke-linejoin="round"/>
<line x1="531" y1="364.8" x2="620.5" y2="364.8" stroke="#1c1c1c" stroke-width="1.0" stroke-linecap="butt"/>
<line x1="531" y1="369.4" x2="620.5" y2="369.4" stroke="#1c1c1c" stroke-width="1.2" stroke-linecap="butt"/>
<line x1="561.8" y1="364.8" x2="561.8" y2="369.4" stroke="#1c1c1c" stroke-width="1.1" stroke-linecap="butt"/>
<line x1="589" y1="364.8" x2="589" y2="369.4" stroke="#1c1c1c" stroke-width="1.1" stroke-linecap="butt"/>
<path d="M534.8,370.7 V376.5 M617.6,370.7 V376.5" fill="none" stroke="#1c1c1c" stroke-width="1.5" stroke-linejoin="round"/>
<path d="M534.8,372.8 Q555,371 576,373 Q597,371 617.6,372.8" fill="none" stroke="#1c1c1c" stroke-width="1.3" stroke-linejoin="round"/>
<path d="M534.8,375 Q555,377 576,374.8 Q597,377 617.6,375" fill="none" stroke="#1c1c1c" stroke-width="1.6" stroke-linejoin="round"/>
<path d="M532.2,377 V380.4 M619.6,377 V380.4" fill="none" stroke="#1c1c1c" stroke-width="1.6" stroke-linejoin="round"/>
<line x1="532.2" y1="377" x2="619.6" y2="377" stroke="#1c1c1c" stroke-width="2.0" stroke-linecap="butt"/>
<line x1="532.2" y1="380.6" x2="619.6" y2="380.6" stroke="#1c1c1c" stroke-width="1.8" stroke-linecap="butt"/>
<path d="M535.4,380.6 V386 M617,380.6 V386" fill="none" stroke="#1c1c1c" stroke-width="1.5" stroke-linejoin="round"/>
<line x1="532.2" y1="386.4" x2="619.6" y2="386.4" stroke="#1c1c1c" stroke-width="2.2" stroke-linecap="butt"/>
<path d="M532.8,387 C532,398 532,418 533.4,429 M618.9,387 C619.8,398 619.8,418 618.4,429" fill="none" stroke="#1c1c1c" stroke-width="1.9" stroke-linejoin="round"/>
<line x1="533" y1="391.7" x2="618.8" y2="391.7" stroke="#1c1c1c" stroke-width="0.9" stroke-linecap="butt"/>
<line x1="533" y1="397.2" x2="618.8" y2="397.2" stroke="#1c1c1c" stroke-width="1.0" stroke-linecap="butt"/>
<line x1="536.2" y1="399" x2="536.2" y2="429" stroke="#1c1c1c" stroke-width="1.0" stroke-linecap="butt"/>
<line x1="615.7" y1="399" x2="615.7" y2="429" stroke="#1c1c1c" stroke-width="1.0" stroke-linecap="butt"/>
<rect x="533.2" y="428.6" width="85.6" height="2.2" fill="#1c1c1c" stroke="#1c1c1c" stroke-width="0"/>
<rect x="535" y="432.2" width="82" height="2" fill="#1c1c1c" stroke="#1c1c1c" stroke-width="0"/>
<line x1="534" y1="430.5" x2="535.6" y2="433.4" stroke="#1c1c1c" stroke-width="1.5" stroke-linecap="butt"/>
<line x1="618" y1="430.5" x2="616.4" y2="433.4" stroke="#1c1c1c" stroke-width="1.5" stroke-linecap="butt"/>
<path d="M560.6,403.6 L566.2,398.8 Q576,396.4 585.8,398.8 L591.4,403.6 V425 L585.8,429.6 Q576,432 566.2,429.6 L560.6,425 Z" fill="none" stroke="#1c1c1c" stroke-width="1.2" stroke-linejoin="round"/>
<line x1="575.9" y1="345" x2="575.9" y2="351" stroke="#1c1c1c" stroke-width="1.4" stroke-linecap="butt"/>
<line x1="575.9" y1="357" x2="575.9" y2="372" stroke="#1c1c1c" stroke-width="1.4" stroke-linecap="butt"/>
<line x1="575.9" y1="375.5" x2="575.9" y2="378.5" stroke="#1c1c1c" stroke-width="1.4" stroke-linecap="butt"/>
<line x1="575.9" y1="382" x2="575.9" y2="400" stroke="#1c1c1c" stroke-width="1.4" stroke-linecap="butt"/>
<line x1="575.9" y1="403.5" x2="575.9" y2="406.5" stroke="#1c1c1c" stroke-width="1.4" stroke-linecap="butt"/>
<line x1="575.9" y1="410" x2="575.9" y2="428" stroke="#1c1c1c" stroke-width="1.4" stroke-linecap="butt"/>
<line x1="575.9" y1="431.5" x2="575.9" y2="434.5" stroke="#1c1c1c" stroke-width="1.4" stroke-linecap="butt"/>
<line x1="575.9" y1="438" x2="575.9" y2="447" stroke="#1c1c1c" stroke-width="1.4" stroke-linecap="butt"/>
<text x="578.4" y="320.1" font-size="20" text-anchor="start" font-weight="normal" fill="#2a2a2a" textLength="26.6" lengthAdjust="spacingAndGlyphs">13</text>
<line x1="575.6" y1="326.2" x2="619" y2="326.2" stroke="#1c1c1c" stroke-width="1.15" stroke-linecap="butt"/>
<polygon points="575.8,326.2 586.8,323.9 586.8,328.5" fill="#1c1c1c"/>
<polygon points="619,326.2 610,328.5 610,323.9" fill="#1c1c1c"/>
<line x1="575.6" y1="320" x2="575.6" y2="327.4" stroke="#1c1c1c" stroke-width="1.15" stroke-linecap="butt"/>
<text x="565.1" y="343.6" font-size="17.5" text-anchor="start" font-weight="normal" fill="#2a2a2a" textLength="52.6" lengthAdjust="spacingAndGlyphs">(0.51)</text>
<line x1="492.8" y1="336.3" x2="509" y2="336.3" stroke="#1c1c1c" stroke-width="1.15" stroke-linecap="butt"/>
<line x1="492.8" y1="433.8" x2="527.4" y2="433.8" stroke="#1c1c1c" stroke-width="1.15" stroke-linecap="butt"/>
<line x1="498.4" y1="344" x2="498.4" y2="426" stroke="#1c1c1c" stroke-width="1.15" stroke-linecap="butt"/>
<polygon points="498.4,336.5 500.7,349.5 496.1,349.5" fill="#1c1c1c"/>
<polygon points="498.4,433.6 496.1,420.6 500.7,420.6" fill="#1c1c1c"/>
<text x="493.6" y="409" font-size="20" text-anchor="start" font-weight="normal" fill="#2a2a2a" transform="rotate(-90 493.6 409)" textLength="43.6" lengthAdjust="spacingAndGlyphs">26.1</text>
<text x="515.4" y="412.2" font-size="17.5" text-anchor="start" font-weight="normal" fill="#2a2a2a" transform="rotate(-90 515.4 412.2)" textLength="51.1" lengthAdjust="spacingAndGlyphs">(1.03)</text>
<line x1="532.6" y1="437" x2="532.6" y2="476" stroke="#1c1c1c" stroke-width="1.15" stroke-linecap="butt"/>
<line x1="619" y1="437" x2="619" y2="476" stroke="#1c1c1c" stroke-width="1.15" stroke-linecap="butt"/>
<line x1="540" y1="471.5" x2="611" y2="471.5" stroke="#1c1c1c" stroke-width="1.15" stroke-linecap="butt"/>
<polygon points="532.8,471.5 545.8,469.2 545.8,473.8" fill="#1c1c1c"/>
<polygon points="618.8,471.5 605.8,473.8 605.8,469.2" fill="#1c1c1c"/>
<text x="538.8" y="465.5" font-size="20" text-anchor="start" font-weight="normal" fill="#2a2a2a" textLength="78.1" lengthAdjust="spacingAndGlyphs">M23 x 1</text>
<circle cx="799.3" cy="224.3" r="110.9" fill="none" stroke="#1c1c1c" stroke-width="3.0"/>
<circle cx="799.2" cy="224.3" r="107.3" fill="none" stroke="#1c1c1c" stroke-width="2.1"/>
<circle cx="799.5" cy="224.9" r="92.6" fill="none" stroke="#1c1c1c" stroke-width="2.2"/>
<circle cx="799.6" cy="224.7" r="78.4" fill="none" stroke="#1c1c1c" stroke-width="1.25" stroke-dasharray="30.05 4 3 4" stroke-dashoffset="8.15"/>
<circle cx="799.6" cy="224.7" r="40.4" fill="none" stroke="#1c1c1c" stroke-width="2.3"/>
<circle cx="799.6" cy="224.7" r="33.3" fill="none" stroke="#1c1c1c" stroke-width="1.15"/>
<circle cx="799.6" cy="224.7" r="21.9" fill="none" stroke="#1c1c1c" stroke-width="1.15"/>
<circle cx="799.6" cy="224.7" r="15.4" fill="none" stroke="#1c1c1c" stroke-width="2.0"/>
<circle cx="799.6" cy="224.7" r="10.4" fill="none" stroke="#1c1c1c" stroke-width="2.0"/>
<line x1="676.9" y1="224.9" x2="693.5" y2="224.9" stroke="#1c1c1c" stroke-width="1.15" stroke-linecap="butt"/>
<line x1="699" y1="224.9" x2="707.3" y2="224.9" stroke="#1c1c1c" stroke-width="1.15" stroke-linecap="butt"/>
<line x1="711.5" y1="224.9" x2="746" y2="224.9" stroke="#1c1c1c" stroke-width="1.15" stroke-linecap="butt"/>
<line x1="753" y1="224.9" x2="847" y2="224.9" stroke="#1c1c1c" stroke-width="1.15" stroke-linecap="butt"/>
<line x1="852.6" y1="224.9" x2="891.3" y2="224.9" stroke="#1c1c1c" stroke-width="1.15" stroke-linecap="butt"/>
<line x1="894" y1="224.9" x2="901" y2="224.9" stroke="#1c1c1c" stroke-width="1.15" stroke-linecap="butt"/>
<line x1="907.9" y1="224.9" x2="921.7" y2="224.9" stroke="#1c1c1c" stroke-width="1.15" stroke-linecap="butt"/>
<line x1="799.5" y1="102" x2="799.5" y2="115.6" stroke="#1c1c1c" stroke-width="1.15" stroke-linecap="butt"/>
<line x1="799.5" y1="123.4" x2="799.5" y2="132.3" stroke="#1c1c1c" stroke-width="1.15" stroke-linecap="butt"/>
<line x1="799.5" y1="137" x2="799.5" y2="171.4" stroke="#1c1c1c" stroke-width="1.15" stroke-linecap="butt"/>
<line x1="799.5" y1="180.3" x2="799.5" y2="272.8" stroke="#1c1c1c" stroke-width="1.15" stroke-linecap="butt"/>
<line x1="799.5" y1="279.2" x2="799.5" y2="311.2" stroke="#1c1c1c" stroke-width="1.15" stroke-linecap="butt"/>
<line x1="799.5" y1="317.5" x2="799.5" y2="324" stroke="#1c1c1c" stroke-width="1.15" stroke-linecap="butt"/>
<line x1="799.5" y1="328" x2="799.5" y2="336" stroke="#1c1c1c" stroke-width="1.15" stroke-linecap="butt"/>
<line x1="799.5" y1="341.4" x2="799.5" y2="350" stroke="#1c1c1c" stroke-width="1.15" stroke-linecap="butt"/>
<line x1="799.5" y1="354" x2="799.5" y2="388" stroke="#1c1c1c" stroke-width="1.15" stroke-linecap="butt"/>
<line x1="799.5" y1="400" x2="799.5" y2="436" stroke="#1c1c1c" stroke-width="1.15" stroke-linecap="butt"/>
<circle cx="877.7" cy="217.87" r="7.2" fill="none" stroke="#1c1c1c" stroke-width="1.6"/>
<circle cx="754.63" cy="160.48" r="7.2" fill="none" stroke="#1c1c1c" stroke-width="1.6"/>
<circle cx="766.47" cy="295.75" r="7.2" fill="none" stroke="#1c1c1c" stroke-width="1.6"/>
<line x1="765.19" y1="175.55" x2="719.3" y2="110.02" stroke="#1c1c1c" stroke-width="1.15" stroke-linecap="butt"/>
<line x1="774.24" y1="279.08" x2="756.07" y2="318.05" stroke="#1c1c1c" stroke-width="1.15" stroke-linecap="butt"/>
<line x1="748.46" y1="334.36" x2="710.43" y2="415.93" stroke="#1c1c1c" stroke-width="1.15" stroke-linecap="butt"/>
<line x1="867.34" y1="218.77" x2="940.06" y2="212.41" stroke="#1c1c1c" stroke-width="1.15" stroke-linecap="butt"/>
<path d="M722.17,114.11 A135,135 0 0 1 934.09,212.93" fill="none" stroke="#1c1c1c" stroke-width="1.15" stroke-linejoin="round"/>
<polygon points="722.17,114.11 731.05,105.73 733.52,109.61" fill="#1c1c1c"/>
<polygon points="934.09,212.93 930.24,201.34 934.8,200.74" fill="#1c1c1c"/>
<text x="821.89" y="83.54" font-size="20" text-anchor="start" font-weight="normal" fill="#2a2a2a" transform="rotate(22.5 821.89 83.54)" textLength="86.1" lengthAdjust="spacingAndGlyphs">3 x 120&#8201;°</text>
<path d="M712.63,411.22 A205.8,205.8 0 0 0 799.6,430.5" fill="none" stroke="#1c1c1c" stroke-width="1.15" stroke-linejoin="round"/>
<polygon points="712.63,411.22 724.56,413.85 722.74,418.08" fill="#1c1c1c"/>
<polygon points="799.6,430.5 787.54,432.44 787.67,427.85" fill="#1c1c1c"/>
<text x="726.33" y="409.15" font-size="20" text-anchor="start" font-weight="normal" fill="#2a2a2a" transform="rotate(12 726.33 409.15)" textLength="70.1" lengthAdjust="spacingAndGlyphs">25&#8201;°<tspan font-size="15">±2°</tspan></text>
<line x1="654.9" y1="146.8" x2="713.6" y2="146.8" stroke="#1c1c1c" stroke-width="1.15" stroke-linecap="butt"/>
<line x1="729" y1="146.8" x2="799" y2="146.8" stroke="#1c1c1c" stroke-width="1.15" stroke-linecap="butt"/>
<line x1="651.6" y1="302.6" x2="713" y2="302.6" stroke="#1c1c1c" stroke-width="1.15" stroke-linecap="butt"/>
<line x1="731" y1="302.6" x2="799" y2="302.6" stroke="#1c1c1c" stroke-width="1.15" stroke-linecap="butt"/>
<line x1="658.2" y1="155" x2="658.2" y2="294" stroke="#1c1c1c" stroke-width="1.15" stroke-linecap="butt"/>
<polygon points="658.2,147.1 660.5,160.1 655.9,160.1" fill="#1c1c1c"/>
<polygon points="658.2,302.4 655.9,289.4 660.5,289.4" fill="#1c1c1c"/>
<text x="653.8" y="297.6" font-size="20" text-anchor="start" font-weight="normal" fill="#2a2a2a" transform="rotate(-90 653.8 297.6)" textLength="144.6" lengthAdjust="spacingAndGlyphs">Ø 42<tspan font-size="16">±0.05</tspan><tspan font-size="17.5"> (1.65)</tspan></text>
<line x1="672.8" y1="61" x2="672.8" y2="145" stroke="#1c1c1c" stroke-width="1.15" stroke-linecap="butt"/>
<polygon points="672.8,153.4 670.5,140.4 675.1,140.4" fill="#1c1c1c"/>
<polygon points="672.8,168.4 675.1,181.4 670.5,181.4" fill="#1c1c1c"/>
<line x1="672.8" y1="176" x2="672.8" y2="190" stroke="#1c1c1c" stroke-width="1.15" stroke-linecap="butt"/>
<line x1="666" y1="153.6" x2="753" y2="153.6" stroke="#1c1c1c" stroke-width="1.15" stroke-linecap="butt"/>
<line x1="666" y1="168.2" x2="749" y2="168.2" stroke="#1c1c1c" stroke-width="1.15" stroke-linecap="butt"/>
<text x="668.2" y="141" font-size="20" text-anchor="start" font-weight="normal" fill="#2a2a2a" transform="rotate(-90 668.2 141)" textLength="64.6" lengthAdjust="spacingAndGlyphs">3 x M4</text>
<text x="691.2" y="141" font-size="17.5" text-anchor="start" font-weight="normal" fill="#2a2a2a" transform="rotate(-90 691.2 141)" textLength="79.6" lengthAdjust="spacingAndGlyphs">(6-deep)</text>
<path d="M716,300 C726,312 736,320 745.6,325.8 C754,330.5 760.5,334 763.5,338 C765.5,341 765.5,344.6 768,345.6 H831.2 C833.7,344.6 833.7,341 835.7,338 C838.7,334 845.2,330.5 853.6,325.8 C863.2,320 873.2,312 883.2,300" fill="none" stroke="#1c1c1c" stroke-width="1.7" stroke-linejoin="round"/>
<path d="M727,306 C735,314 741,318.5 748,322.6 C757,327.6 764,331.5 766.8,335.6 C768.6,338.6 768.4,342 770.4,343 H828.8 C830.8,342 830.6,338.6 832.4,335.6 C835.2,331.5 842.2,327.6 851.2,322.6 C858.2,318.5 864.2,314 872.2,306" fill="none" stroke="#1c1c1c" stroke-width="0.9" stroke-linejoin="round"/>
<path d="M771.7,345.8 V349.4 H827.5 V345.8" fill="none" stroke="#1c1c1c" stroke-width="1.6" stroke-linejoin="round"/>
<line x1="771.7" y1="347.6" x2="827.5" y2="347.6" stroke="#1c1c1c" stroke-width="0.9" stroke-linecap="butt"/>
<rect x="778.8" y="349.4" width="41.6" height="4.4" fill="#444" stroke="#1c1c1c" stroke-width="0"/>
<path d="M778.8,349.4 V391.4 H820.4 V349.4" fill="none" stroke="#1c1c1c" stroke-width="1.7" stroke-linejoin="round"/>
<line x1="778.8" y1="351.2" x2="820.4" y2="351.2" stroke="#1c1c1c" stroke-width="1.4" stroke-linecap="butt"/>
<line x1="778.8" y1="353.4" x2="820.4" y2="353.4" stroke="#1c1c1c" stroke-width="1.2" stroke-linecap="butt"/>
<line x1="778.8" y1="358.2" x2="820.4" y2="358.2" stroke="#1c1c1c" stroke-width="1.0" stroke-linecap="butt"/>
<line x1="778.8" y1="385.8" x2="820.4" y2="385.8" stroke="#1c1c1c" stroke-width="1.0" stroke-linecap="butt"/>
<line x1="778.8" y1="388" x2="820.4" y2="388" stroke="#1c1c1c" stroke-width="1.2" stroke-linecap="butt"/>
</svg>
</body></html>
